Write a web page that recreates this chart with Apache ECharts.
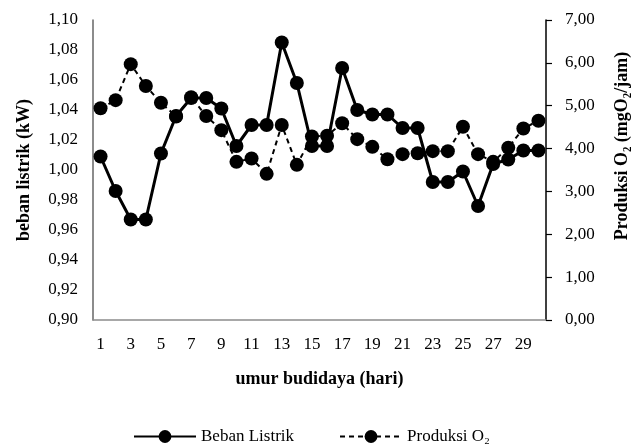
<!DOCTYPE html>
<html>
<head>
<meta charset="utf-8">
<script src="https://cdn.jsdelivr.net/npm/echarts@6/dist/echarts.min.js"></script>
<style>
  html, body { margin: 0; padding: 0; background: #fff; }
  #chart { width: 637px; height: 445px; }
</style>
</head>
<body>
<div id="chart"></div>
<script>
  // hari ke-1 .. ke-30
  var days = [];
  for (var i = 1; i <= 30; i++) days.push(String(i));
  // beban listrik (kW)
  var bebanListrik = [1.009, 0.986, 0.967, 0.967, 1.011, 1.036, 1.048, 1.048, 1.041, 1.016,
    1.030, 1.030, 1.085, 1.058, 1.016, 1.016, 1.068, 1.040, 1.037, 1.037,
    1.028, 1.028, 0.992, 0.992, 0.999, 0.976, 1.004, 1.007, 1.013, 1.013];
  // produksi O2 (mgO2/jam)
  var produksiO2 = [4.94, 5.13, 5.97, 5.46, 5.07, 4.75, 5.20, 4.76, 4.43, 3.69,
    3.77, 3.41, 4.55, 3.62, 4.28, 4.30, 4.59, 4.22, 4.04, 3.75,
    3.87, 3.89, 3.94, 3.94, 4.51, 3.87, 3.69, 4.02, 4.47, 4.65];

  var font = 'Liberation Serif';
  var comma = function (d) {
    return function (v) { return v.toFixed(d).replace('.', ','); };
  };

  var chart = echarts.init(document.getElementById('chart'));
  chart.setOption({
    animation: false,
    textStyle: { fontFamily: font, color: '#000' },
    grid: { left: 93, right: 91, top: 20, bottom: 125, outerBoundsMode: 'none', containLabel: false },
    legend: {
      bottom: 0,
      left: 133,
      padding: 0,
      itemWidth: 62,
      itemHeight: 16,
      itemGap: 45,
      textStyle: { fontFamily: font, fontSize: 17, color: '#000' },
      data: ['Beban Listrik', 'Produksi O₂']
    },
    xAxis: {
      type: 'category',
      data: days,
      name: 'umur budidaya (hari)',
      nameLocation: 'middle',
      nameGap: 50,
      nameTextStyle: { fontFamily: font, fontSize: 18, fontWeight: 'bold', color: '#000' },
      axisLine: { lineStyle: { color: '#8c8c8c', width: 1.5 } },
      axisTick: { show: false },
      axisLabel: { interval: 1, margin: 16, fontFamily: font, fontSize: 17, color: '#000' },
      splitLine: { show: false }
    },
    yAxis: [{
      type: 'value',
      min: 0.9,
      max: 1.1,
      interval: 0.02,
      name: 'beban listrik (kW)',
      nameLocation: 'middle',
      nameGap: 60,
      nameTextStyle: { fontFamily: font, fontSize: 18, fontWeight: 'bold', color: '#000' },
      axisLine: { show: true, lineStyle: { color: '#666', width: 1.5 } },
      axisTick: { show: false },
      axisLabel: { margin: 15, fontFamily: font, fontSize: 17, color: '#000', formatter: comma(2) },
      splitLine: { show: false }
    }, {
      type: 'value',
      min: 0,
      max: 7,
      interval: 1,
      position: 'right',
      name: 'Produksi O₂ (mgO₂/jam)',
      nameLocation: 'middle',
      nameGap: 67,
      nameRotate: 90,
      nameTextStyle: { fontFamily: font, fontSize: 18, fontWeight: 'bold', color: '#000', padding: [0, 0, 0, 48] },
      axisLine: { show: true, lineStyle: { color: '#000', width: 1.5 } },
      axisTick: { show: true, length: 6, lineStyle: { color: '#000', width: 1.2 } },
      axisLabel: { margin: 19, fontFamily: font, fontSize: 17, color: '#000', formatter: comma(2) },
      splitLine: { show: false }
    }],
    series: [{
      name: 'Beban Listrik',
      type: 'line',
      yAxisIndex: 0,
      data: bebanListrik,
      symbol: 'circle',
      symbolSize: 14,
      showAllSymbol: true,
      itemStyle: { color: '#000' },
      lineStyle: { color: '#000', width: 3 },
      z: 3
    }, {
      name: 'Produksi O₂',
      type: 'line',
      yAxisIndex: 1,
      data: produksiO2,
      symbol: 'circle',
      symbolSize: 14,
      showAllSymbol: true,
      itemStyle: { color: '#000' },
      lineStyle: { color: '#000', width: 2, type: [5, 4] },
      z: 2
    }]
  });
</script>
</body>
</html>
